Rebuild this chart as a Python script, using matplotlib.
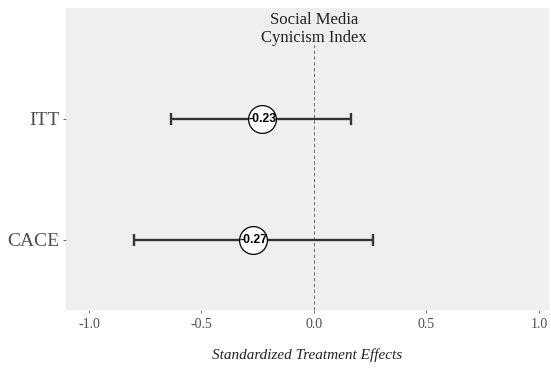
import matplotlib
matplotlib.use("Agg")
import matplotlib.pyplot as plt

# Estimates and 95% intervals
labels = ["CACE", "ITT"]
estimates = [-0.27, -0.23]
ci_low = [-0.80, -0.636]
ci_high = [0.262, 0.164]
estimate_text = ["-0.27", "-0.23"]
x_ticks = [-1.0, -0.5, 0.0, 0.5, 1.0]
x_tick_labels = ["-1.0", "-0.5", "0.0", "0.5", "1.0"]
outcome_title = "Social Media\nCynicism Index"

serif = ["Liberation Serif", "DejaVu Serif"]

fig = plt.figure(figsize=(5.51, 3.70), dpi=100)
ax = fig.add_axes([66 / 551, 1 - 310 / 370, (549 - 66) / 551, (310 - 8) / 370])
ax.set_facecolor("#efefef")
for s in ax.spines.values():
    s.set_visible(False)

ypos = list(range(1, len(labels) + 1))
y_lo, y_hi = 0.42, 2.917

# zero reference line, stopping below the outcome title
ax.vlines(0, y_lo, 2.61, color="#555555", lw=0.6, ls=(0, (4, 3)), zorder=1)

for y, est, lo, hi, txt in zip(ypos, estimates, ci_low, ci_high, estimate_text):
    ax.errorbar(est, y, xerr=[[est - lo], [hi - est]], fmt="none",
                ecolor="#333333", elinewidth=1.7, capsize=4, capthick=1.7, zorder=2)
    ax.plot(est, y, "o", ms=20, mfc="white", mec="black", mew=0.9, zorder=3)
    ax.text(est, y, txt, ha="center", va="center", fontsize=8.8,
            fontweight="bold", family=["Liberation Sans", "DejaVu Sans"], zorder=4)

ax.text(0, 2.745, outcome_title, ha="center", va="center", fontsize=12,
        family=serif, color="#222222", linespacing=1.15)

ax.set_xlim(-1.102, 1.045)
ax.set_ylim(y_lo, y_hi)
ax.set_yticks(ypos)
ax.set_yticklabels(labels, family=serif, fontsize=14, color="#4d4d4d")
ax.set_xticks(x_ticks)
ax.set_xticklabels(x_tick_labels, family=serif, fontsize=10, color="#4d4d4d")
ax.tick_params(axis="both", length=2.5, width=0.6, color="#555555", pad=2)
ax.tick_params(axis="x", pad=3)
ax.set_xlabel("Standardized Treatment Effects", family=serif, style="italic",
              fontsize=11, color="#222222", labelpad=13)

fig.savefig("out.png", dpi=100)
